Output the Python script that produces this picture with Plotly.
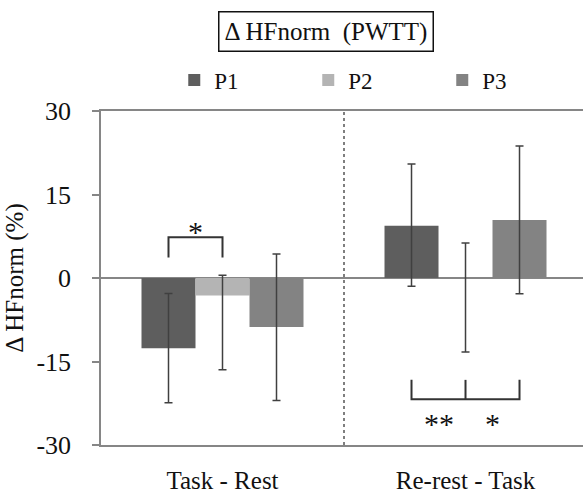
import plotly.graph_objects as go

categories = ["Task - Rest", "Re-rest - Task"]
series_names = ["P1", "P2", "P3"]
values = {
    "P1": [-12.6, 9.4],
    "P2": [-3.15, 0.0],
    "P3": [-8.8, 10.4],
}
err_plus = {
    "P1": [9.8, 11.1],
    "P2": [3.65, 6.3],
    "P3": [13.1, 13.3],
}
err_minus = {
    "P1": [9.8, 10.9],
    "P2": [13.35, 13.3],
    "P3": [13.2, 13.25],
}
colors = {"P1": "#5e5e5e", "P2": "#b4b4b4", "P3": "#838383"}
y_ticks = [-30, -15, 0, 15, 30]

FONT = "Liberation Serif, Times New Roman, serif"

fig = go.Figure()
legend_ids = ["legend", "legend2", "legend3"]
for name, lg in zip(series_names, legend_ids):
    fig.add_trace(go.Bar(
        x=categories, y=values[name], name=name, legend=lg,
        marker=dict(color=colors[name], line=dict(width=0)),
        error_y=dict(type="data", symmetric=False,
                     array=err_plus[name], arrayminus=err_minus[name],
                     color="#404040", thickness=1.5, width=4),
    ))

# dashed separator between groups
fig.add_shape(type="line", xref="x", yref="y", x0=0.5, x1=0.5, y0=-30, y1=30,
              line=dict(color="#555555", width=1.5, dash="3px,3px"), layer="below")

bw = 2 / 9  # bar offset within group (3 bars in 2/3 of category)
br = dict(color="#333333", width=2)
# left bracket (P1 vs P2, Task - Rest)
fig.add_shape(type="path", xref="x", yref="y",
              path=f"M {-bw},3.7 L {-bw},7.3 L 0,7.3 L 0,3.7", line=br)
fig.add_annotation(x=-bw / 2, y=8.3, xref="x", yref="y", text="*", showarrow=False,
                   font=dict(family=FONT, size=30, color="#111111"), yanchor="middle")
# right bracket (P1 vs P2 **, P2 vs P3 *)
fig.add_shape(type="path", xref="x", yref="y",
              path=f"M {1-bw},-18.3 L {1-bw},-21.8 L {1+bw},-21.8 L {1+bw},-18.3", line=br)
fig.add_shape(type="line", xref="x", yref="y", x0=1, x1=1, y0=-18.3, y1=-21.8, line=br)
fig.add_annotation(x=1 - bw / 2, y=-26.1, xref="x", yref="y", text="**", showarrow=False,
                   font=dict(family=FONT, size=30, color="#111111"), yanchor="middle")
fig.add_annotation(x=1 + bw / 2, y=-26.1, xref="x", yref="y", text="*", showarrow=False,
                   font=dict(family=FONT, size=30, color="#111111"), yanchor="middle")

# boxed title
fig.add_annotation(x=0.466, y=1.2395, xref="paper", yref="paper",
                   text="Δ HFnorm  (PWTT)", showarrow=False,
                   font=dict(family=FONT, size=25, color="#111111"),
                   bordercolor="#111111", borderwidth=1.5, borderpad=5,
                   xanchor="center", yanchor="middle")

leg_common = dict(orientation="h", y=1.093, xanchor="left", yanchor="middle",
                  font=dict(family=FONT, size=23, color="#111111"),
                  itemwidth=30, bgcolor="rgba(0,0,0,0)")

fig.update_layout(
    width=583, height=494,
    margin=dict(l=101, r=0, t=111, b=49),
    paper_bgcolor="white", plot_bgcolor="white",
    barmode="group", bargap=1 / 3, bargroupgap=0,
    font=dict(family=FONT, color="#111111"),
    showlegend=True,
    legend=dict(x=0.152, **leg_common),
    legend2=dict(x=0.430, **leg_common),
    legend3=dict(x=0.708, **leg_common),
    xaxis=dict(range=[-0.5, 1.4835], showline=True, linecolor="#868686", linewidth=1.5,
               mirror=True, ticks="", showgrid=False, zeroline=False,
               ticklabelstandoff=12,
               tickfont=dict(family=FONT, size=25, color="#111111")),
    yaxis=dict(range=[-30, 30], tickvals=y_ticks, ticktext=[str(v) for v in y_ticks],
               showline=True, linecolor="#868686", linewidth=1.5,
               ticks="outside", ticklen=7, tickcolor="#868686", tickwidth=1.5,
               ticklabelstandoff=16,
               showgrid=False, zeroline=True, zerolinecolor="#868686", zerolinewidth=1.5,
               tickfont=dict(family=FONT, size=26, color="#111111"),
               title=dict(text="Δ HFnorm (%)", font=dict(family=FONT, size=25, color="#111111"),
                          standoff=6)),
)

fig.write_html("out.html")
